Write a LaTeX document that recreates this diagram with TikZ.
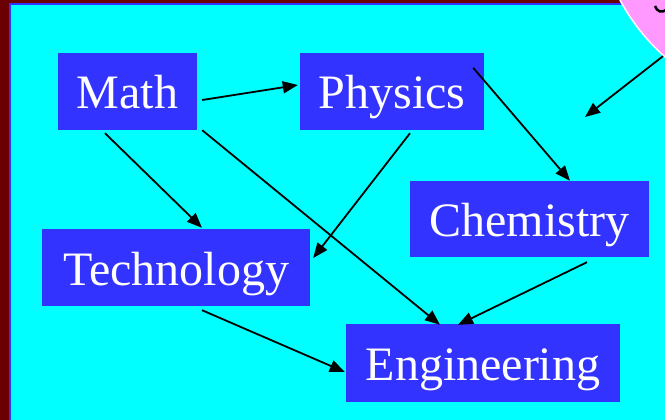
\documentclass[tikz,border=0pt]{standalone}
\usepackage{fontspec}
\setmainfont{Liberation Serif}
\usetikzlibrary{arrows.meta,calc}
\definecolor{bgcyan}{HTML}{00FFFF}
\definecolor{boxblue}{HTML}{3333FF}
\definecolor{framered}{HTML}{6B0000}
\definecolor{bubblepink}{HTML}{FF99FF}
\tikzset{
  topic/.style={rectangle, fill=boxblue, text=white, inner sep=0pt,
    font=\fontsize{48}{50}\selectfont, text height=35pt, text depth=0pt},
  arr/.style={draw=black, line width=1.8pt, -{Triangle[length=15pt,width=12pt]}}
}
\begin{document}
\begin{tikzpicture}[x=1pt,y=-1pt]
\useasboundingbox (0,0) rectangle (665,420);
\clip (0,0) rectangle (665,420);
% frame and background
\fill[framered] (0,0) rectangle (665,420);
\fill[boxblue] (9,3) rectangle (665,420);
\fill[bgcyan] (11,5) rectangle (665,420);
% pink bubble
\node[circle, fill=bubblepink, draw=white, line width=1.5pt, minimum size=408pt, inner sep=0pt] (bubble) at (800,-96) {};
\draw[black, line width=2.5pt] (655,6) .. controls (657,12) and (662,13) .. (666,10);
% topics
\node[topic, minimum width=139pt, minimum height=77pt] (Math) at (127.5,91.5) {Math};
\node[topic, minimum width=184pt, minimum height=77pt] (Physics) at (392,91.5) {Physics};
\node[topic, minimum width=239pt, minimum height=76pt] (Chemistry) at (529.5,219) {Chemistry};
\node[topic, minimum width=268pt, minimum height=77pt] (Technology) at (176,267.5) {Technology};
\node[topic, minimum width=274pt, minimum height=78pt] (Engineering) at (483,363) {Engineering};
\coordinate (bubbletip) at (585,117);
% connectors
\draw[arr] ($(Math.east)+(5,8.5)$) -- ($(Physics.west)+(-2,-6.5)$);
\draw[arr] ($(Physics.north east)+(-11,15)$) -- ($(Chemistry.north)+(40.5,0)$);
\draw[arr] (bubble.228.9) -- (bubbletip);
\draw[arr] ($(Math.south)+(-22.5,3)$) -- ($(Technology.north)+(26,-1)$);
\draw[arr] ($(Math.south east)+(5,0)$) -- ($(Engineering.north)+(-43,1)$);
\draw[arr] ($(Physics.south)+(18,3)$) -- ($(Technology.east)+(3,-9.5)$);
\draw[arr] ($(Chemistry.south)+(57.5,5)$) -- ($(Engineering.north)+(-25,1)$);
\draw[arr] ($(Technology.south)+(26,4)$) -- ($(Engineering.west)+(-1,9)$);
\end{tikzpicture}
\end{document}
